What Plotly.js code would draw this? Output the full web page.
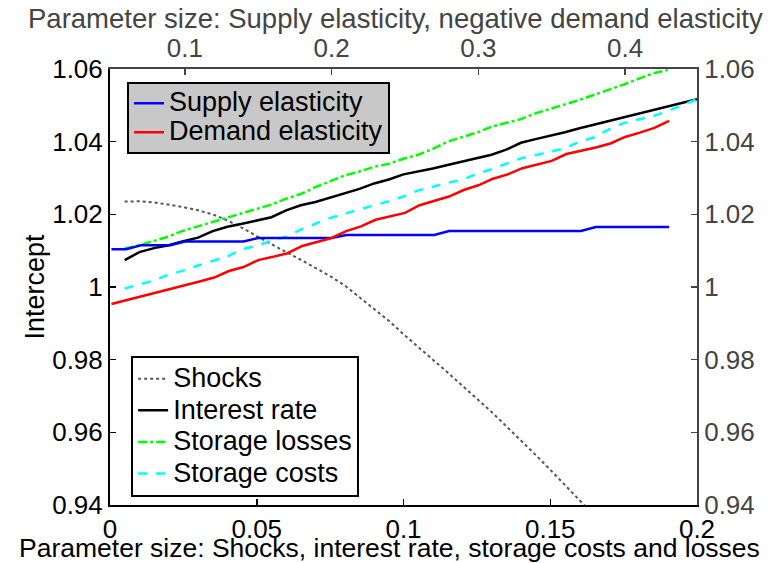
<!DOCTYPE html>
<html><head><meta charset="utf-8">
<script src="https://cdn.plot.ly/plotly-3.0.1.min.js"></script>
<style>html,body{margin:0;padding:0;background:#fff}#chart{width:773px;height:563px}</style>
</head><body><div id="chart"></div>
<script>
// Bottom axis parameter grid (shocks, interest rate, storage costs and losses)
const bottomX = [0.005,0.01,0.015,0.02,0.025,0.03,0.035,0.04,0.045,0.05,0.055,0.06,0.065,0.07,0.075,0.08,0.085,0.09,0.095,0.1,
  0.105,0.11,0.115,0.12,0.125,0.13,0.135,0.14,0.145,0.15,0.155,0.16,0.165,0.17,0.175,0.18,0.185,0.19,0.195,0.2];
const shocksX = [0.005,0.01,0.015,0.02,0.025,0.03,0.035,0.04,0.045,0.05,0.055,0.06,0.065,0.07,0.075,0.08,0.085,0.09,0.095,0.1,
  0.105,0.11,0.115,0.12,0.125,0.13,0.135,0.14,0.145,0.15,0.155,0.16,0.165];
const lossesX = [0.005,0.01,0.015,0.02,0.025,0.03,0.035,0.04,0.045,0.05,0.055,0.06,0.065,0.07,0.075,0.08,0.085,0.09,0.095,0.1,
  0.105,0.11,0.115,0.12,0.125,0.13,0.135,0.14,0.145,0.15,0.155,0.16,0.165,0.17,0.175,0.18,0.185,0.19];
const shocks = [1.0235,1.0236,1.0233,1.0227,1.0220,1.0211,1.0200,1.0183,1.0163,1.0140,1.0117,1.0096,1.0075,1.0052,1.0030,1.0004,
  0.9972,0.9940,0.9907,0.9870,0.9836,0.9800,0.9765,0.9729,0.9692,0.9656,0.9617,0.9578,0.9538,0.9497,0.9456,0.9413,0.9370];
const interestRate = [1.0074,1.0096,1.0107,1.0115,1.0126,1.0136,1.0154,1.0166,1.0174,1.0183,1.0192,1.0211,1.0225,1.0234,1.0246,
  1.0258,1.0270,1.0285,1.0296,1.0310,1.0317,1.0326,1.0336,1.0345,1.0355,1.0364,1.0378,1.0397,1.0407,1.0416,1.0426,1.0437,1.0447,
  1.0457,1.0466,1.0476,1.0486,1.0497,1.0507,1.0517];
const storageLosses = [1.0106,1.0115,1.0127,1.0139,1.0155,1.0167,1.0178,1.0191,1.0203,1.0216,1.0227,1.0243,1.0256,1.0275,1.0290,
  1.0307,1.0318,1.0331,1.0339,1.0353,1.0364,1.0380,1.0400,1.0412,1.0425,1.0441,1.0451,1.0462,1.0478,1.0490,1.0502,1.0515,1.0529,
  1.0542,1.0557,1.0573,1.0588,1.0597];
const storageCosts = [0.9996,1.0007,1.0018,1.0034,1.0045,1.0059,1.0072,1.0084,1.0104,1.0113,1.0128,1.0138,1.0158,1.0174,1.0190,
  1.0202,1.0213,1.0225,1.0236,1.0249,1.0266,1.0276,1.0287,1.0295,1.0312,1.0324,1.0340,1.0354,1.0363,1.0372,1.0382,1.0400,1.0412,
  1.0434,1.0451,1.0461,1.0470,1.0484,1.0501,1.0517];

// Top axis parameter grid (supply elasticity, negative demand elasticity)
const topX = [0.05,0.06,0.07,0.08,0.09,0.10,0.11,0.12,0.13,0.14,0.15,0.16,0.17,0.18,0.19,0.20,0.21,0.22,0.23,0.24,0.25,0.26,
  0.27,0.28,0.29,0.30,0.31,0.32,0.33,0.34,0.35,0.36,0.37,0.38,0.39,0.40,0.41,0.42,0.43];
const supplyElasticity = [1.0104,1.0104,1.0115,1.0115,1.0115,1.0125,1.0125,1.0125,1.0125,1.0125,1.0135,1.0135,1.0135,1.0135,
  1.0135,1.0135,1.0143,1.0143,1.0143,1.0143,1.0143,1.0143,1.0143,1.0154,1.0154,1.0154,1.0154,1.0154,1.0154,1.0154,1.0154,1.0154,
  1.0154,1.0165,1.0165,1.0165,1.0165,1.0165,1.0165];
const demandElasticity = [0.9953,0.9963,0.9973,0.9984,0.9994,1.0004,1.0015,1.0026,1.0044,1.0055,1.0074,1.0083,1.0093,1.0113,
  1.0123,1.0135,1.0154,1.0167,1.0185,1.0194,1.0204,1.0225,1.0236,1.0249,1.0267,1.0280,1.0298,1.0310,1.0327,1.0337,1.0347,1.0366,
  1.0374,1.0384,1.0395,1.0413,1.0425,1.0438,1.0457];

// Tick labels
const yTickVals = [0.94,0.96,0.98,1,1.02,1.04,1.06];
const yTickText = ['0.94','0.96','0.98','1','1.02','1.04','1.06'];
const xTickVals = [0,0.05,0.1,0.15,0.2];
const xTickText = ['0','0.05','0.1','0.15','0.2'];
const x2TickVals = [0.1,0.2,0.3,0.4];
const x2TickText = ['0.1','0.2','0.3','0.4'];

const FONT = 'Liberation Sans, Arial, sans-serif';
const GRAY = '#444444';
const LW = 2.5;
const big = s => '<span style="font-size:27px">' + s + '</span>';

const traces = [
  {x: shocksX, y: shocks, name: big('Shocks'), mode: 'lines', legend: 'legend2',
   line: {color: '#555555', width: 2, dash: 'dot'}},
  {x: bottomX, y: interestRate, name: big('Interest rate'), mode: 'lines', legend: 'legend2',
   line: {color: '#000000', width: LW}},
  {x: lossesX, y: storageLosses, name: big('Storage losses'), mode: 'lines', legend: 'legend2',
   line: {color: '#00ff00', width: LW, dash: 'dashdot'}},
  {x: bottomX, y: storageCosts, name: big('Storage costs'), mode: 'lines', legend: 'legend2',
   line: {color: '#00ffff', width: LW, dash: 'dash'}},
  {x: topX, y: supplyElasticity, name: big('Supply elasticity'), mode: 'lines', xaxis: 'x2', yaxis: 'y2', legend: 'legend',
   line: {color: '#0000ff', width: LW}},
  {x: topX, y: demandElasticity, name: big('Demand elasticity'), mode: 'lines', xaxis: 'x2', yaxis: 'y2', legend: 'legend',
   line: {color: '#ff0000', width: LW}}
];

const axisCommon = {showgrid: false, zeroline: false, ticks: 'inside', ticklen: 6, tickwidth: 1.5,
  showline: true, linewidth: 2, fixedrange: true};

const layout = {
  width: 773, height: 563,
  margin: {l: 110, r: 76, t: 69, b: 58, pad: 0},
  paper_bgcolor: '#ffffff', plot_bgcolor: '#ffffff',
  font: {family: FONT, size: 26, color: '#000000'},
  showlegend: true,
  xaxis: Object.assign({}, axisCommon, {
    range: [0, 0.2], tickvals: xTickVals, ticktext: xTickText, linecolor: '#000', tickcolor: '#000',
    tickfont: {size: 26, color: '#000'}
  }),
  yaxis: Object.assign({}, axisCommon, {
    range: [0.94, 1.06], tickvals: yTickVals, ticktext: yTickText, linecolor: '#000', tickcolor: '#000',
    tickfont: {size: 26, color: '#000'},
    title: {text: 'Intercept', font: {size: 27, color: '#000'}, standoff: 0}
  }),
  xaxis2: Object.assign({}, axisCommon, {
    overlaying: 'x', side: 'top', anchor: 'y2',
    range: [0.049, 0.449], tickvals: x2TickVals, ticktext: x2TickText, linecolor: GRAY, tickcolor: GRAY,
    tickfont: {size: 26, color: GRAY}
  }),
  yaxis2: Object.assign({}, axisCommon, {
    overlaying: 'y', side: 'right', anchor: 'x2',
    range: [0.94, 1.06], tickvals: yTickVals, ticktext: yTickText, linecolor: GRAY, tickcolor: GRAY,
    tickfont: {size: 26, color: GRAY}
  }),
  annotations: [
    {text: 'Parameter size: Supply elasticity, negative demand elasticity', xref: 'paper', yref: 'paper',
     x: 0.487, y: 1.115, xanchor: 'center', yanchor: 'middle', showarrow: false,
     font: {size: 27.5, color: GRAY}},
    {text: 'Parameter size: Shocks, interest rate, storage costs and losses', xref: 'paper', yref: 'paper',
     x: 0.477, y: -0.099, xanchor: 'center', yanchor: 'middle', showarrow: false,
     font: {size: 26.5, color: '#000'}}
  ],
  legend: {x: 0.029, y: 0.971, xanchor: 'left', yanchor: 'top', bgcolor: '#c8c8c8', bordercolor: '#000',
    borderwidth: 2, font: {size: 20, color: '#000'}, tracegroupgap: 0},
  legend2: {x: 0.036, y: 0.342, xanchor: 'left', yanchor: 'top', bgcolor: '#ffffff', bordercolor: '#000',
    borderwidth: 2, font: {size: 22, color: '#000'}, tracegroupgap: 0}
};

Plotly.newPlot('chart', traces, layout, {staticPlot: true, displayModeBar: false});
</script>
</body></html>
